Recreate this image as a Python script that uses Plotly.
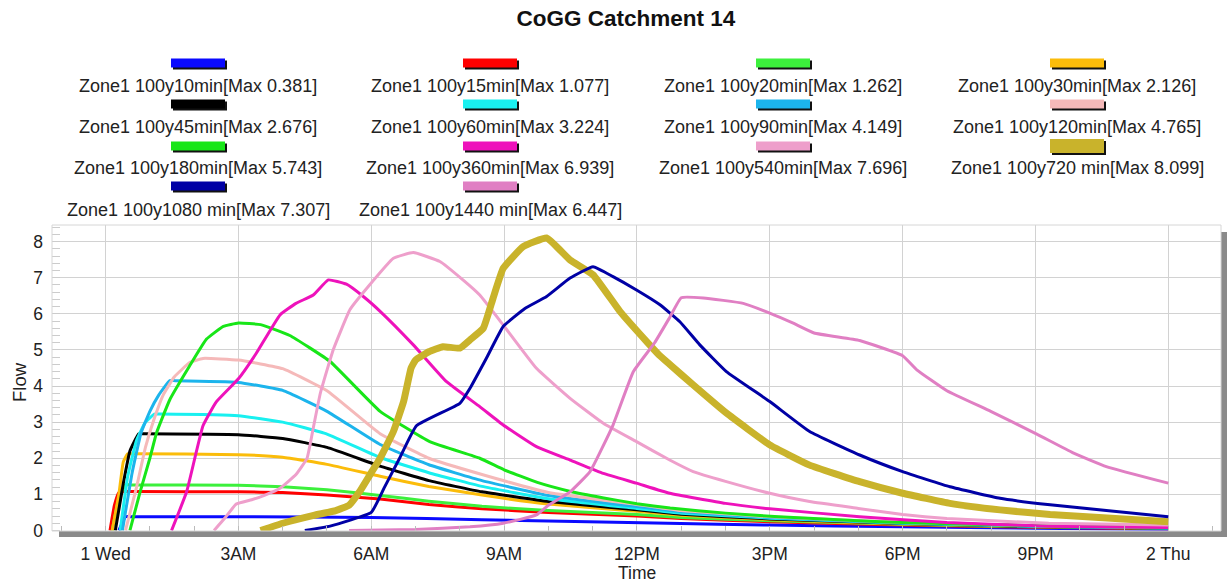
import plotly.graph_objects as go

# ---------------- data (hours after 1 Wed 00:00, flow) ----------------
names = [
    "Zone1 100y10min[Max 0.381]", "Zone1 100y15min[Max 1.077]",
    "Zone1 100y20min[Max 1.262]", "Zone1 100y30min[Max 2.126]",
    "Zone1 100y45min[Max 2.676]", "Zone1 100y60min[Max 3.224]",
    "Zone1 100y90min[Max 4.149]", "Zone1 100y120min[Max 4.765]",
    "Zone1 100y180min[Max 5.743]", "Zone1 100y360min[Max 6.939]",
    "Zone1 100y540min[Max 7.696]", "Zone1 100y720 min[Max 8.099]",
    "Zone1 100y1080 min[Max 7.307]", "Zone1 100y1440 min[Max 6.447]",
]
colors = ["#0a0aff", "#ff0000", "#3cf03c", "#fbbc0a", "#000000", "#19f0f0",
          "#1cb4ec", "#f5b9b9", "#18e618", "#ee12bb", "#ee9fcb", "#c9b32b",
          "#0000a5", "#e07fc3"]
widths = [3, 3, 3, 3, 3, 3, 3, 3, 3, 3, 3, 7, 3, 3]

t10 = [0.3, 0.45, 0.57, 3.0, 6.0, 8.5, 12.7, 15, 18, 21, 24]
q10 = [0, 0.381, 0.381, 0.38, 0.36, 0.3, 0.2, 0.15, 0.1, 0.06, 0.03]

t15 = [0.1, 0.2, 0.3, 0.5, 0.62, 3.0, 4.0, 5.0, 6.2, 7.3, 8.5, 10, 12, 13, 15, 18, 21, 24]
q15 = [0, 0.7, 1.05, 1.077, 1.077, 1.07, 1.05, 0.98, 0.87, 0.72, 0.6, 0.5, 0.4, 0.33, 0.24, 0.15, 0.09, 0.05]

t20 = [0.15, 0.3, 0.45, 0.57, 3.0, 4.0, 5.0, 6.2, 7.3, 8.5, 10, 12, 13, 15, 18, 21, 24]
q20 = [0, 0.9, 1.262, 1.262, 1.25, 1.21, 1.13, 0.97, 0.81, 0.67, 0.55, 0.44, 0.36, 0.27, 0.17, 0.1, 0.06]

t30 = [0.15, 0.3, 0.4, 0.5, 0.62, 3.0, 4.0, 5.0, 6.2, 7.3, 8.5, 10, 12, 13, 15, 18, 21, 24]
q30 = [0, 1.0, 1.9, 2.126, 2.126, 2.1, 2.03, 1.83, 1.5, 1.22, 0.98, 0.73, 0.53, 0.42, 0.3, 0.18, 0.11, 0.06]

t45 = [0.22, 0.4, 0.55, 0.75, 0.87, 3.0, 4.0, 5.0, 6.2, 7.3, 8.5, 10, 12, 13, 15, 18, 21, 24]
q45 = [0, 1.3, 2.2, 2.676, 2.676, 2.65, 2.55, 2.3, 1.78, 1.38, 1.07, 0.8, 0.57, 0.45, 0.32, 0.19, 0.11, 0.06]

t60 = [0.33, 0.5, 0.7, 0.9, 1.1, 1.22, 3.0, 4.0, 5.0, 6.2, 7.3, 8.5, 10, 12, 13, 15, 18, 21, 24]
q60 = [0, 1.5, 2.5, 3.0, 3.224, 3.224, 3.18, 3.0, 2.67, 2.02, 1.6, 1.22, 0.88, 0.61, 0.48, 0.34, 0.2, 0.12, 0.07]

t90 = [0.38, 0.6, 0.8, 1.0, 1.2, 1.45, 1.57, 3.0, 4.0, 5.0, 6.2, 7.3, 8.5, 10, 12, 13, 15, 18, 21, 24]
q90 = [0, 1.6, 2.7, 3.3, 3.75, 4.149, 4.149, 4.1, 3.88, 3.3, 2.38, 1.82, 1.38, 0.97, 0.66, 0.52, 0.36, 0.21, 0.12, 0.07]

t120 = [0.45, 0.7, 0.9, 1.1, 1.3, 1.55, 1.9, 2.2, 3.0, 4.0, 5.0, 6.2, 7.3, 8.5, 10, 12, 13, 15, 18, 21, 24]
q120 = [0, 1.2, 2.3, 3.1, 3.75, 4.25, 4.65, 4.765, 4.72, 4.48, 3.87, 2.68, 2.0, 1.55, 1.05, 0.72, 0.55, 0.38, 0.22, 0.13, 0.08]

t180 = [0.55, 0.78, 1.0, 1.15, 1.45, 1.9, 2.28, 2.66, 3.0, 3.5, 4.16, 5.07, 6.2, 7.32, 8.45,
        9.0, 9.75, 10.5, 11.25, 12.0, 12.75, 14.0, 15.2, 17.0, 18.0, 21.0, 24.0]
q180 = [0, 1.07, 2.0, 2.7, 3.62, 4.56, 5.3, 5.65, 5.743, 5.7, 5.4, 4.68, 3.3, 2.46, 2.0,
        1.68, 1.33, 1.08, 0.9, 0.74, 0.62, 0.48, 0.38, 0.27, 0.22, 0.13, 0.08]

t360 = [1.49, 1.83, 2.2, 2.5, 3.0, 3.4, 3.94, 4.3, 4.69, 5.03, 5.44, 5.82, 6.2, 6.95, 7.7, 8.45,
        8.98, 9.73, 10.49, 11.24, 11.99, 12.74, 14.0, 15.0, 17.03, 19.0, 21.3, 24.0]
q360 = [0, 1.07, 2.9, 3.56, 4.2, 4.9, 5.97, 6.29, 6.52, 6.939, 6.82, 6.48, 6.07, 5.14, 4.12, 3.43,
        2.92, 2.32, 1.95, 1.58, 1.31, 1.03, 0.75, 0.6, 0.38, 0.22, 0.12, 0.08]

t540 = [2.45, 2.7, 2.95, 3.3, 3.6, 3.94, 4.3, 4.55, 4.7, 4.85, 5.14, 5.52, 5.9, 6.5, 6.95, 7.55,
        8.07, 8.45, 8.98, 9.73, 10.49, 11.24, 11.99, 12.74, 13.27, 14.0, 15.0, 15.9, 17.0, 18.0,
        19.0, 21.3, 24.0]
q540 = [0, 0.35, 0.73, 0.85, 0.98, 1.17, 1.55, 2.0, 2.9, 3.8, 5.0, 6.12, 6.71, 7.54, 7.696, 7.45,
        6.94, 6.52, 5.69, 4.49, 3.66, 2.97, 2.46, 1.95, 1.63, 1.36, 1.03, 0.8, 0.61, 0.44,
        0.33, 0.2, 0.15]

t720 = [3.5, 4.0, 4.7, 5.2, 5.5, 5.75, 6.0, 6.2, 6.5, 6.73, 6.9, 7.0, 7.3, 7.62, 8.0, 8.23, 8.53,
        8.75, 8.98, 9.43, 9.96, 10.49, 11.01, 11.62, 12.22, 12.5, 12.74, 13.27, 14.02, 15.0, 15.9,
        17.03, 18.0, 19.07, 20.2, 21.33, 24.0]
q720 = [0, 0.2, 0.42, 0.55, 0.7, 1.1, 1.6, 2.0, 2.74, 3.57, 4.5, 4.72, 4.95, 5.09, 5.05, 5.28, 5.6,
        6.43, 7.26, 7.86, 8.099, 7.49, 7.08, 6.06, 5.23, 4.86, 4.6, 4.03, 3.25, 2.37, 1.81,
        1.35, 1.03, 0.75, 0.57, 0.44, 0.24]

t1080 = [4.5, 5.07, 6.0, 6.3, 6.64, 7.02, 8.0, 8.23, 8.6, 8.98, 9.47, 9.96, 10.49, 11.01, 11.46,
         11.99, 12.52, 12.97, 13.42, 14.02, 15.0, 15.9, 17.03, 18.0, 19.07, 20.2, 21.33, 24.0]
q1080 = [0, 0.12, 0.5, 1.2, 2.0, 2.9, 3.52, 3.94, 4.77, 5.65, 6.15, 6.48, 6.99, 7.307, 7.03,
         6.66, 6.25, 5.78, 5.14, 4.4, 3.57, 2.74, 2.09, 1.63, 1.21, 0.89, 0.71, 0.38]

t1440 = [5.5, 7.0, 8.23, 8.98, 9.73, 10.0, 10.49, 10.94, 11.46, 11.92, 12.4, 12.74, 13.0, 13.5,
         14.4, 15.0, 15.53, 16.0, 17.03, 18.0, 18.32, 19.0, 19.99, 21.03, 21.85, 22.6, 24.0]
q1440 = [0, 0.03, 0.1, 0.2, 0.43, 0.7, 1.07, 1.63, 2.92, 4.4, 5.2, 5.9, 6.447, 6.44,
         6.29, 6.02, 5.74, 5.47, 5.26, 4.84, 4.45, 3.87, 3.3, 2.67, 2.15, 1.77, 1.31]

times = [t10, t15, t20, t30, t45, t60, t90, t120, t180, t360, t540, t720, t1080, t1440]
flows = [q10, q15, q20, q30, q45, q60, q90, q120, q180, q360, q540, q720, q1080, q1440]

tick_vals = [0, 3, 6, 9, 12, 15, 18, 21, 24]
tick_text = ["1 Wed", "3AM", "6AM", "9AM", "12PM", "3PM", "6PM", "9PM", "2 Thu"]

# ---------------- layout geometry (pixels) ----------------
W, H = 1227, 586
PL, PR, PT, PB = 52, 1221, 225, 531
FONT = "Liberation Sans, Arial, sans-serif"


def fx(px):
    return (px - PL) / (PR - PL)


def fy(py):
    return (PB - py) / (PB - PT)


fig = go.Figure()
for t, q, nm, c, w in zip(times, flows, names, colors, widths):
    fig.add_trace(go.Scatter(x=t, y=q, mode="lines", name=nm,
                             line=dict(color=c, width=w, shape="spline", smoothing=0.35),
                             showlegend=False))

shapes = []
annotations = []

# custom legend: swatch above text, 4 columns
col_x = [198, 490, 783, 1077]
row_sw = [63, 104, 146, 186]
row_tx = [86, 127, 168, 210]
for i, (nm, c, w) in enumerate(zip(names, colors, widths)):
    r, k = divmod(i, 4)
    cx, cy = col_x[k], row_sw[r]
    hh = 7 if w > 5 else 4.5
    shapes.append(dict(type="rect", xref="paper", yref="paper",
                       x0=fx(cx - 27 + 2), x1=fx(cx + 27 + 2),
                       y0=fy(cy + hh + 2), y1=fy(cy - hh + 2),
                       fillcolor="#111111", line=dict(width=0)))
    shapes.append(dict(type="rect", xref="paper", yref="paper",
                       x0=fx(cx - 27), x1=fx(cx + 27),
                       y0=fy(cy + hh), y1=fy(cy - hh),
                       fillcolor=c, line=dict(width=0)))
    annotations.append(dict(text=nm, xref="paper", yref="paper",
                            x=fx(cx), y=fy(row_tx[r]), xanchor="center", yanchor="middle",
                            showarrow=False, font=dict(family=FONT, size=18, color="#222222")))

# drop shadow of plot area
shapes.append(dict(type="rect", xref="paper", yref="paper",
                   x0=fx(59), x1=fx(1227), y0=fy(537), y1=fy(531),
                   fillcolor="#8a8a8a", line=dict(width=0)))
shapes.append(dict(type="rect", xref="paper", yref="paper",
                   x0=fx(1221), x1=fx(1227), y0=fy(537), y1=fy(232),
                   fillcolor="#8a8a8a", line=dict(width=0)))
# light border of plot area
shapes.append(dict(type="rect", xref="paper", yref="paper", x0=0, x1=1, y0=0, y1=1,
                   line=dict(color="#d6d6d6", width=1), fillcolor="rgba(0,0,0,0)"))

# axis titles
annotations.append(dict(text="Time", xref="paper", yref="paper", x=fx(637), y=fy(573),
                        xanchor="center", yanchor="middle", showarrow=False,
                        font=dict(family=FONT, size=17.5, color="#222222")))
annotations.append(dict(text="Flow", xref="paper", yref="paper", x=fx(19), y=fy(382),
                        xanchor="center", yanchor="middle", showarrow=False, textangle=-90,
                        font=dict(family=FONT, size=18.5, color="#222222")))

fig.update_layout(
    width=W, height=H,
    margin=dict(l=PL, r=W - PR, t=PT, b=H - PB, pad=0),
    paper_bgcolor="white", plot_bgcolor="white",
    title=dict(text="<b>CoGG Catchment 14</b>", x=626 / W, xanchor="center",
               y=1 - 18 / H, yanchor="middle",
               font=dict(family=FONT, size=22.5, color="#111111")),
    shapes=shapes, annotations=annotations,
    showlegend=False,
    font=dict(family=FONT, color="#222222"),
)
fig.update_xaxes(range=[-1.21, 25.19], tickvals=tick_vals, ticktext=tick_text,
                 showgrid=True, gridcolor="#d2d2d2", gridwidth=1, zeroline=False,
                 ticks="", ticklabelstandoff=10,
                 tickfont=dict(family=FONT, size=17.5, color="#222222"),
                 minor=dict(dtick=1, tick0=0, ticks="inside", ticklen=5,
                            tickcolor="#bbbbbb", showgrid=False),
                 showline=False)
fig.update_yaxes(range=[-0.015, 8.46], tickvals=list(range(0, 9)),
                 showgrid=True, gridcolor="#d2d2d2", gridwidth=1, zeroline=False,
                 ticks="", ticklabelstandoff=8,
                 tickfont=dict(family=FONT, size=17.5, color="#222222"),
                 minor=dict(dtick=0.2, tick0=0, ticks="inside", ticklen=8,
                            tickcolor="#cccccc", showgrid=False),
                 showline=False)

fig.write_html("out.html", config={"displayModeBar": False},
               post_script="document.body.style.margin='0';document.body.style.overflow='hidden';")
